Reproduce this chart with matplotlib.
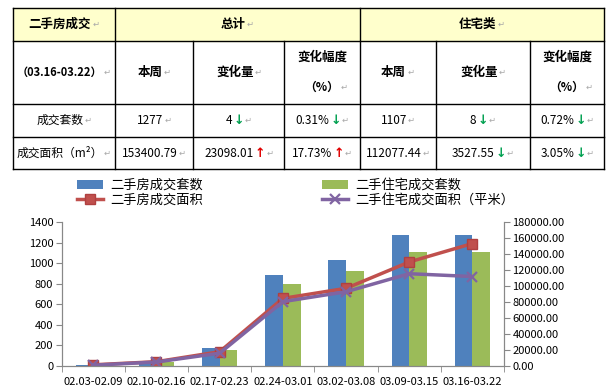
import matplotlib
matplotlib.use('Agg')
import matplotlib.pyplot as plt
import numpy as np
from matplotlib.ticker import FuncFormatter, MultipleLocator

plt.rcParams['font.family'] = ['Noto Sans CJK SC', 'DejaVu Sans']

# ---- data ----
categories = ['02.03-02.09', '02.10-02.16', '02.17-02.23', '02.24-03.01',
              '03.02-03.08', '03.09-03.15', '03.16-03.22']
used_units = [12, 48, 178, 886, 1032, 1281, 1277]
res_units = [5, 42, 156, 799, 925, 1115, 1107]
used_area = [1500, 5400, 17900, 84700, 97300, 130302.78, 153400.79]
res_area = [1000, 5000, 16000, 80600, 93000, 115604.99, 112077.44]

# table
table_title = '二手房成交'
period = '（03.16-03.22）'
groups = ['总计', '住宅类']
sub_heads = ['本周', '变化量', '变化幅度']
row_labels = ['成交套数', '成交面积（m²）']
total_week = ['1277', '153400.79']
total_change = ['4', '23098.01']
total_pct = ['0.31%', '17.73%']
total_dir = ['down', 'up']
res_week = ['1107', '112077.44']
res_change = ['8', '3527.55']
res_pct = ['0.72%', '3.05%']
res_dir = ['down', 'down']

c_blue, c_green, c_red, c_purple = '#4F81BD', '#9BBB59', '#C0504D', '#8064A2'

fig = plt.figure(figsize=(6.08, 3.88), dpi=100)

# ---- table (drawn on an overlay axes in pixel units) ----
tab = fig.add_axes([0, 0, 1, 1])
tab.set_xlim(0, 608)
tab.set_ylim(388, 0)
tab.axis('off')

col_x = [13, 114.7, 193.3, 284.3, 359.7, 435.7, 530, 604]
row_y = [8.3, 40.7, 104, 137, 169.3]

tab.add_patch(plt.Rectangle((col_x[0], row_y[0]), col_x[-1] - col_x[0],
                            row_y[1] - row_y[0], color='#FFFFCC', zorder=0))
lw = 1.0
for y in row_y:
    tab.plot([col_x[0], col_x[-1]], [y, y], color='black', lw=lw)
for i, x in enumerate(col_x):
    if i in (2, 3, 5, 6):
        tab.plot([x, x], [row_y[1], row_y[-1]], color='black', lw=lw)
    else:
        tab.plot([x, x], [row_y[0], row_y[-1]], color='black', lw=lw)

renderer = fig.canvas.get_renderer()
RET = '\u21b5'


def cell(cx, cy, parts):
    objs = []
    for s, color, weight, fs in parts:
        fam = ['DejaVu Sans'] if s in ('↑', '↓', RET) else None
        t = tab.text(0, cy, s, color=color, fontweight=weight, fontsize=fs,
                     ha='left', va='center', family=fam)
        objs.append(t)
    widths = [t.get_window_extent(renderer).width for t in objs]
    gap = 1.0
    total = sum(widths) + gap * (len(objs) - 1)
    x = cx - total / 2
    for t, w in zip(objs, widths):
        t.set_x(x)
        x += w + gap


def ret():
    return (RET, '#A8A8A8', 'normal', 6)


def arrow(d):
    if d == 'up':
        return ('↑', '#E00000', 'bold', 9)
    return ('↓', '#00A050', 'bold', 9)


def mid(a, b):
    return (a + b) / 2

# header row 1
hy = mid(row_y[0], row_y[1])
cell(mid(col_x[0], col_x[1]), hy, [(table_title, 'black', 'bold', 9), ret()])
cell(mid(col_x[1], col_x[4]), hy, [(groups[0], 'black', 'bold', 9), ret()])
cell(mid(col_x[4], col_x[7]), hy, [(groups[1], 'black', 'bold', 9), ret()])

# header row 2
hy2 = mid(row_y[1], row_y[2])
cell(mid(col_x[0], col_x[1]), hy2, [(period, 'black', 'bold', 8), ret()])
for g in range(2):
    base = 1 + 3 * g
    cell(mid(col_x[base], col_x[base + 1]), hy2, [(sub_heads[0], 'black', 'bold', 9), ret()])
    cell(mid(col_x[base + 1], col_x[base + 2]), hy2, [(sub_heads[1], 'black', 'bold', 9), ret()])
    cx = mid(col_x[base + 2], col_x[base + 3])
    cell(cx, 57, [(sub_heads[2], 'black', 'bold', 9)])
    cell(cx + 4, 87, [('（%）', 'black', 'bold', 8.5), ret()])

# body rows
for r in range(2):
    cy = mid(row_y[2 + r], row_y[3 + r])
    cell(mid(col_x[0], col_x[1]), cy, [(row_labels[r], 'black', 'normal', 8.5), ret()])
    cell(mid(col_x[1], col_x[2]), cy, [(total_week[r], 'black', 'normal', 8.5), ret()])
    cell(mid(col_x[2], col_x[3]), cy, [(total_change[r], 'black', 'normal', 8.5),
                                        arrow(total_dir[r]), ret()])
    cell(mid(col_x[3], col_x[4]), cy, [(total_pct[r], 'black', 'normal', 8.5),
                                        arrow(total_dir[r]), ret()])
    cell(mid(col_x[4], col_x[5]), cy, [(res_week[r], 'black', 'normal', 8.5), ret()])
    cell(mid(col_x[5], col_x[6]), cy, [(res_change[r], 'black', 'normal', 8.5),
                                        arrow(res_dir[r]), ret()])
    cell(mid(col_x[6], col_x[7]), cy, [(res_pct[r], 'black', 'normal', 8.5),
                                        arrow(res_dir[r]), ret()])

# ---- chart ----
left, right, bottom_px, top_px = 61.7, 504, 366, 222.3
ax = fig.add_axes([left / 608, (388 - bottom_px) / 388,
                   (right - left) / 608, (bottom_px - top_px) / 388])
ax2 = ax.twinx()

x = np.arange(len(categories))
w = 0.28
b1 = ax.bar(x - w / 2, used_units, w, color=c_blue, label='二手房成交套数')
b2 = ax.bar(x + w / 2, res_units, w, color=c_green, label='二手住宅成交套数')
l1, = ax2.plot(x, used_area, color=c_red, lw=2.5, marker='s', ms=7,
               mfc=c_red, mec='#B04040', label='二手房成交面积')
l2, = ax2.plot(x, res_area, color=c_purple, lw=2.5, marker='x', ms=7, mew=1.6,
               label='二手住宅成交面积（平米）')

ax.set_xlim(-0.5, len(categories) - 0.5)
ax.set_ylim(0, 1400)
ax.yaxis.set_major_locator(MultipleLocator(200))
ax2.set_ylim(0, 180000)
ax2.yaxis.set_major_locator(MultipleLocator(20000))
ax2.yaxis.set_major_formatter(FuncFormatter(lambda v, p: f'{v:.2f}'))

ax.set_xticks(x)
ax.set_xticklabels(categories)
ax.set_xticks(np.arange(-0.5, len(categories)), minor=True)
ax.tick_params(axis='x', which='major', length=0, pad=8, labelsize=8)
ax.tick_params(axis='x', which='minor', length=4, color='#888888')
ax.tick_params(axis='y', length=4, color='#888888', labelsize=8, pad=2)
ax2.tick_params(axis='y', length=4, color='#888888', labelsize=8, pad=2)

for a in (ax, ax2):
    a.spines['top'].set_visible(False)
    for s in ('left', 'right', 'bottom'):
        a.spines[s].set_color('#888888')
        a.spines[s].set_linewidth(0.8)
ax.patch.set_visible(False)

leg_kw = dict(frameon=False, fontsize=9.5, handlelength=2.0, handletextpad=0.5,
              borderpad=0, borderaxespad=0, labelspacing=0.15, loc='upper left')
fig.legend([b1, l1], ['二手房成交套数', '二手房成交面积'],
           bbox_to_anchor=(77 / 608, 1 - 179 / 388), **leg_kw)
fig.legend([b2, l2], ['二手住宅成交套数', '二手住宅成交面积（平米）'],
           bbox_to_anchor=(322 / 608, 1 - 179 / 388), **leg_kw)

fig.savefig('out.png', dpi=100)
